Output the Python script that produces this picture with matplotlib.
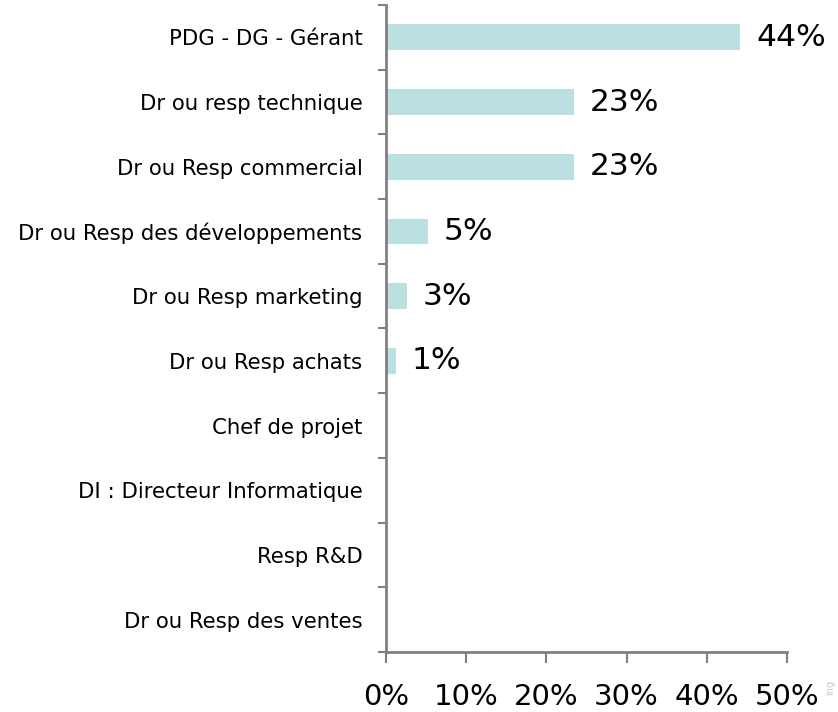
import matplotlib
matplotlib.use("Agg")
import matplotlib.pyplot as plt
import numpy as np

categories = ["PDG - DG - Gérant", "Dr ou resp technique", "Dr ou Resp commercial",
              "Dr ou Resp des développements", "Dr ou Resp marketing", "Dr ou Resp achats",
              "Chef de projet", "DI : Directeur Informatique", "Resp R&D", "Dr ou Resp des ventes"]
values = [44.2, 23.4, 23.4, 5.2, 2.6, 1.2, 0, 0, 0, 0]
value_labels = ["44%", "23%", "23%", "5%", "3%", "1%", "", "", "", ""]
xticks = [0, 10, 20, 30, 40, 50]
xticklabels = ["0%", "10%", "20%", "30%", "40%", "50%"]

plt.rcParams['font.family'] = ['DejaVu Sans']
fig = plt.figure(figsize=(8.38, 7.12), dpi=100)
ax = fig.add_axes([386/838, 1-652/712, (787-386)/838, (652-5)/712])

n = len(categories)
y = np.arange(n)
ax.barh(y, values, height=0.4, color="#BAE0E2")
for yi, v, lab in zip(y, values, value_labels):
    if lab:
        ax.text(v + 2.0, yi, lab, va="center", ha="left", fontsize=22.5, color="black")

ax.set_ylim(n - 0.5, -0.5)
ax.set_xlim(0, 50)
ax.set_xticks(xticks)
ax.set_xticklabels(xticklabels, fontsize=21)
ax.set_yticks(np.arange(n + 1) - 0.5)
ax.set_yticklabels([])
ax.set_yticks(y, minor=True)
ax.set_yticklabels(categories, minor=True, fontsize=15.3)
ax.tick_params(axis="y", which="minor", length=0, pad=17)
ax.tick_params(axis="y", which="major", length=6, width=1.5, color="#808080")
ax.tick_params(axis="x", length=8, width=1.5, color="#808080", pad=14)
for s in ["top", "right"]:
    ax.spines[s].set_visible(False)
for s in ["left", "bottom"]:
    ax.spines[s].set_color("#808080")
    ax.spines[s].set_linewidth(2)

fig.text(0.997, 0.035, "ing", rotation=90, fontsize=7, color="#C8C8C8", ha="right", va="center")

fig.savefig("out.png", dpi=100)
